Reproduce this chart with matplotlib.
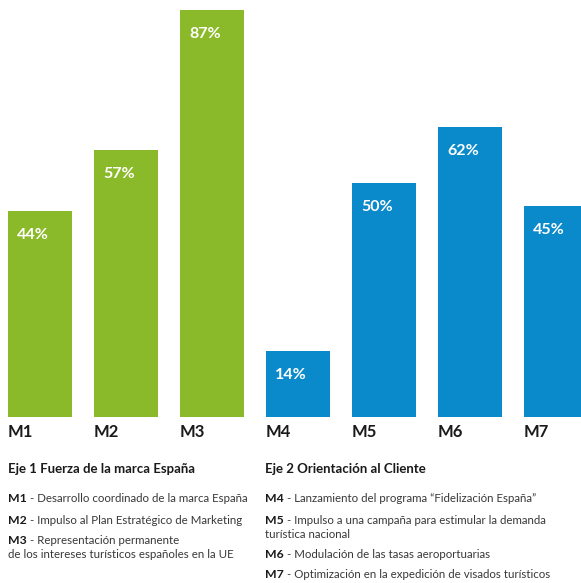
import matplotlib
matplotlib.use('Agg')
import matplotlib.pyplot as plt

plt.rcParams['font.family'] = ['Lato', 'DejaVu Sans']

# data
codes = ['M1', 'M2', 'M3', 'M4', 'M5', 'M6', 'M7']
values = [44, 57, 87, 14, 50, 62, 45]
groups = [0, 0, 0, 1, 1, 1, 1]
group_titles = ['Eje 1 Fuerza de la marca España', 'Eje 2 Orientación al Cliente']
legend_left = [
    ('M1', ' - Desarrollo coordinado de la marca España'),
    ('M2', ' - Impulso al Plan Estratégico de Marketing'),
    ('M3', ' - Representación permanente'),
    ('', 'de los intereses turísticos españoles en la UE'),
]
legend_right = [
    ('M4', ' - Lanzamiento del programa \u201cFidelización España\u201d'),
    ('M5', ' - Impulso a una campaña para estimular la demanda'),
    ('', 'turística nacional'),
    ('M6', ' - Modulación de las tasas aeroportuarias'),
    ('M7', ' - Optimización en la expedición de visados turísticos'),
]

GREEN = '#8aba29'
BLUE = '#0a8acb'
W, H = 581, 583

fig = plt.figure(figsize=(W / 100, H / 100), dpi=100)
ax = fig.add_axes([0, 166 / H, 1, 1 - 166 / H])
pitch = 86.0
bw = 64 / pitch
ax.set_xlim(-40 / pitch, (W - 40) / pitch)
ax.set_ylim(0, 417 / 4.68)
ax.axis('off')

xs = list(range(len(codes)))
colors = [GREEN if g == 0 else BLUE for g in groups]
ax.bar(xs, values, width=bw, color=colors)

for x, v, c in zip(xs, values, codes):
    left = x - bw / 2
    ax.annotate(f'{v}%', xy=(left, v), xytext=(9, -24), textcoords='offset pixels',
                color='white', fontsize=11.5, fontweight='bold', va='center', ha='left')
    ax.annotate(c, xy=(left, 0), xytext=(0, -15), textcoords='offset pixels',
                color='#1a1a1a', fontsize=12, fontweight='bold', va='center', ha='left',
                annotation_clip=False)


def px(x, y):
    return x / W, 1 - y / H


for tx, title in zip([8, 265], group_titles):
    fig.text(*px(tx, 469), title, fontsize=9.5, fontweight='bold', color='#1a1a1a', va='center')


def legend(items, x0, ys):
    for (code, rest), y in zip(items, ys):
        if code:
            t = fig.text(*px(x0, y), code, fontsize=8.8, fontweight='bold', color='#1a1a1a', va='center')
            ax.annotate(rest, xy=(1, 0.5), xycoords=t, va='center', ha='left',
                        fontsize=8.3, color='#383838', annotation_clip=False)
        else:
            fig.text(*px(x0, y), rest, fontsize=8.3, color='#383838', va='center')


legend(legend_left, 8, [499, 520, 540, 555])
legend(legend_right, 265, [499, 520, 534, 554, 574])

fig.savefig('out.png', dpi=100, facecolor='white')
